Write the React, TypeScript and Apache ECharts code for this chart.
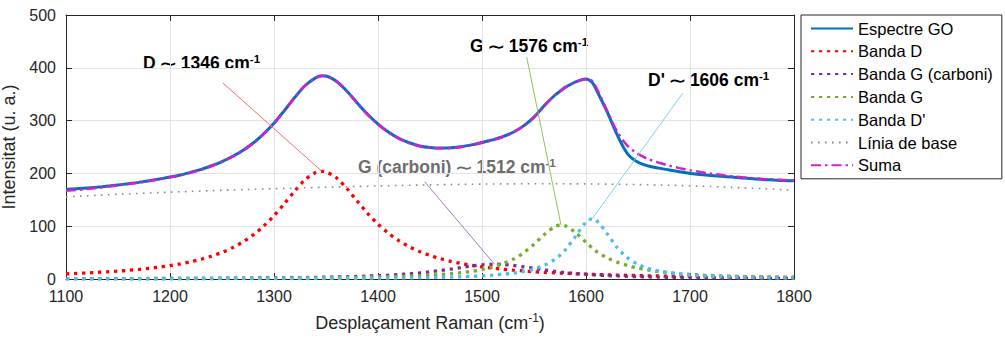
import React, { useEffect, useRef } from "react";
import * as echarts from "echarts";

// Raman shift sampling (cm^-1)
const ramanShift = [
  1100, 1110, 1120, 1130, 1140, 1150, 1160, 1170, 1180, 1190,
  1200, 1210, 1220, 1230, 1240, 1250, 1260, 1270, 1280, 1290,
  1300, 1310, 1320, 1330, 1340, 1346, 1350, 1360, 1370, 1380, 1390,
  1400, 1410, 1420, 1430, 1440, 1450, 1460, 1470, 1480, 1490,
  1500, 1510, 1512, 1520, 1530, 1540, 1550, 1560, 1570, 1576, 1580, 1590,
  1600, 1606, 1610, 1620, 1630, 1640, 1650, 1660, 1670, 1680, 1690,
  1700, 1710, 1720, 1730, 1740, 1750, 1760, 1770, 1780, 1790, 1800,
];

// Measured GO spectrum
const espectreGO = [
  170, 171, 172.5, 174, 176, 178, 180.5, 183, 186, 189.5,
  193, 197, 202, 207.5, 214.5, 222.5, 232, 243.5, 257.5, 275,
  295, 319, 344, 366.5, 381, 385, 384.5, 374.5, 356, 333.5, 312,
  293.5, 278.5, 266.5, 258, 252, 249, 248, 248.5, 250.5, 254,
  258.5, 263.5, 264.5, 269.5, 278, 290, 306.5, 328.5, 348, 357, 363, 373.5,
  379, 372, 358, 318, 273, 237, 221, 214, 210, 206.5, 203,
  200, 198, 196, 194.5, 193, 191.5, 190, 188.5, 187.5, 186.5, 186,
];

// Fitted bands
const bandaD = [
  9.7, 10.5, 11.4, 12.4, 13.6, 14.9, 16.4, 18.1, 20.2, 22.6,
  25.4, 28.7, 32.7, 37.4, 43.3, 50.4, 59.2, 70.1, 83.6, 100.1,
  120.0, 142.8, 166.7, 188.1, 201.6, 204, 202.9, 191.6, 171.4, 147.6, 124.4,
  103.9, 86.7, 72.6, 61.2, 52.0, 44.6, 38.5, 33.5, 29.4, 26.0,
  23.1, 20.6, 20.2, 18.5, 16.7, 15.2, 13.8, 12.6, 11.6, 11.0, 10.7, 9.9,
  9.1, 8.7, 8.5, 7.9, 7.4, 6.9, 6.5, 6.1, 5.7, 5.4, 5.1,
  4.8, 4.6, 4.3, 4.1, 3.9, 3.7, 3.5, 3.4, 3.2, 3.1, 3.0,
];

const bandaGCarboni = [
  0.6, 0.6, 0.6, 0.7, 0.7, 0.8, 0.8, 0.8, 0.9, 0.9,
  1.0, 1.1, 1.1, 1.2, 1.3, 1.4, 1.5, 1.6, 1.8, 1.9,
  2.1, 2.3, 2.5, 2.7, 3.0, 3.2, 3.4, 3.8, 4.2, 4.8, 5.5,
  6.3, 7.2, 8.4, 9.8, 11.5, 13.5, 16.0, 18.8, 21.8, 24.7,
  26.9, 27.9, 28, 27.5, 25.7, 23.0, 20.0, 17.1, 14.5, 13.1, 12.3, 10.4,
  8.9, 8.1, 7.6, 6.6, 5.8, 5.0, 4.5, 4.0, 3.5, 3.2, 2.9,
  2.6, 2.4, 2.2, 2.0, 1.8, 1.7, 1.6, 1.4, 1.3, 1.3, 1.2,
];

const bandaG = [
  0.6, 0.6, 0.6, 0.6, 0.7, 0.7, 0.7, 0.8, 0.8, 0.8,
  0.9, 0.9, 1.0, 1.0, 1.1, 1.2, 1.2, 1.3, 1.4, 1.5,
  1.6, 1.7, 1.9, 2.0, 2.2, 2.3, 2.4, 2.6, 2.9, 3.2, 3.5,
  3.9, 4.3, 4.9, 5.5, 6.3, 7.3, 8.5, 10.0, 12.0, 14.5,
  17.9, 22.4, 23.5, 28.7, 37.4, 49.6, 65.7, 84.4, 99.1, 102, 100.7, 87.9,
  69.4, 58.8, 52.5, 40.5, 32.0, 25.5, 20.5, 17.0, 14.0, 11.8, 10.0,
  8.6, 7.5, 6.6, 5.8, 5.2, 4.7, 4.2, 3.8, 3.5, 3.2, 2.9,
];

const bandaDPrima = [
  0.3, 0.3, 0.3, 0.3, 0.3, 0.3, 0.4, 0.4, 0.4, 0.4,
  0.4, 0.5, 0.5, 0.5, 0.5, 0.6, 0.6, 0.6, 0.7, 0.7,
  0.8, 0.8, 0.9, 0.9, 1.0, 1.0, 1.1, 1.2, 1.3, 1.4, 1.5,
  1.7, 1.8, 2.0, 2.3, 2.5, 2.9, 3.3, 3.7, 4.3, 5.1,
  6.0, 7.2, 7.5, 8.9, 11.1, 14.3, 18.9, 26.0, 37.1, 46.7, 54.8, 80.9,
  107.8, 114, 111.2, 86.8, 59.3, 40.0, 27.8, 20.1, 15.1, 11.7, 9.3,
  7.5, 6.2, 5.2, 4.5, 3.8, 3.3, 2.9, 2.6, 2.3, 2.1, 1.9,
];

const liniaBase = [
  155.5, 156.5, 157.5, 158.5, 159.5, 160.5, 161.3, 162.1, 162.9, 163.7,
  164.5, 165.2, 165.9, 166.6, 167.3, 168.0, 168.6, 169.2, 169.8, 170.4,
  171.0, 171.6, 172.2, 172.8, 173.3, 173.6, 173.8, 174.3, 174.8, 175.3, 175.8,
  176.3, 176.7, 177.1, 177.5, 177.9, 178.3, 178.6, 178.9, 179.2, 179.5,
  179.7, 179.9, 179.9, 180.1, 180.2, 180.3, 180.4, 180.4, 180.4, 180.4, 180.3, 180.2,
  180.1, 180.0, 179.9, 179.7, 179.4, 179.1, 178.8, 178.4, 178.0, 177.5, 177.0,
  176.4, 175.8, 175.1, 174.4, 173.6, 172.8, 171.9, 171.0, 170.0, 169.0, 168.0,
];

const suma = [
  167, 168.5, 170.5, 172.5, 175, 177.5, 180, 182.5, 185.5, 189,
  192.5, 196.5, 201.5, 207, 214, 222, 231.5, 243, 257, 274.5,
  295, 319, 344, 366.5, 381, 384.5, 384, 374, 355.5, 333, 311.5,
  293, 278, 266, 257.5, 251.5, 248.5, 247.5, 248, 250, 253.5,
  258, 263, 264, 269, 277.5, 289.5, 306, 328, 348, 357, 362.5, 373,
  378.5, 375, 362, 320, 279, 252, 237, 227, 220.5, 214.5, 210,
  206, 202.5, 199.5, 197, 194.5, 192.5, 191, 189.5, 188.5, 187.5, 186.5,
];

// Band centres and their peak heights
const bandNames = ["D", "G (carboni)", "G", "D'"];
const bandCenters = [1346, 1512, 1576, 1606];
const bandPeaks = [204, 28, 102, 114];

const xTicks = [1100, 1200, 1300, 1400, 1500, 1600, 1700, 1800];
const yTicks = [0, 100, 200, 300, 400, 500];

const FONT = '"Liberation Sans", Arial, Helvetica, sans-serif';
const AXIS_COLOR = "#262626";

const pairs = (ys: number[]) => ramanShift.map((x, i) => [x, ys[i]]);

export default function App() {
  const ref = useRef<HTMLDivElement>(null);

  useEffect(() => {
    document.body.style.margin = "0";
    if (!ref.current) return;
    const chart = echarts.init(ref.current, null, { renderer: "svg" });

    // leader-line start points (data units) and label placement (px)
    const leaders = [
      { start: [1251, 371], color: "#ff6a6a", label: { x: 143, y: 63, fill: "#000" } },
      { start: [1445, 184], color: "#a77bbd", label: { x: 358, y: 167, fill: "#6e6e6e" } },
      { start: [1543, 420], color: "#93c25a", label: { x: 470, y: 46, fill: "#000" } },
      { start: [1693, 352], color: "#7fd0f2", label: { x: 648, y: 80, fill: "#000" } },
    ];

    const leaderLine = (k: number) => ({
      silent: true,
      symbol: ["none", "none"],
      label: { show: false },
      lineStyle: { color: leaders[k].color, width: 1, type: "solid" },
      data: [[{ coord: leaders[k].start }, { coord: [bandCenters[k], bandPeaks[k]] }]],
    });

    const dotted = [3.3, 4.7];

    const lineSeries = (
      name: string,
      ys: number[],
      color: string,
      width: number,
      type: any,
      z: number,
      extra: any = {}
    ) => ({
      name,
      type: "line",
      data: pairs(ys),
      showSymbol: false,
      symbol: "none",
      smooth: 0.3,
      z,
      itemStyle: { color },
      lineStyle: { color, width, type },
      emphasis: { disabled: true },
      ...extra,
    });

    const labelText = (k: number) =>
      `{b|${bandNames[k]}} {t|∼} {b|${bandCenters[k]} cm}{s|-1}`;

    const graphicTexts = leaders.map((l, k) => ({
      type: "text",
      x: l.label.x,
      y: l.label.y,
      silent: true,
      style: {
        text: labelText(k),
        align: "left",
        verticalAlign: "middle",
        fill: l.label.fill,
        rich: {
          b: { fontSize: 17.5, fontWeight: "bold", fontFamily: FONT, fill: l.label.fill, lineHeight: 20 },
          t: { fontSize: 22, fontFamily: '"DejaVu Sans", sans-serif', fill: l.label.fill, lineHeight: 20 },
          s: { fontSize: 11.5, fontWeight: "bold", fontFamily: FONT, fill: l.label.fill, verticalAlign: "top", lineHeight: 12 },
        },
      },
    }));

    const option: any = {
      animation: false,
      backgroundColor: "#fff",
      grid: {
        left: 66,
        top: 15,
        width: 728,
        height: 264,
        outerBoundsMode: "none",
        containLabel: false,
      },
      legend: {
        orient: "vertical",
        left: 801,
        top: 15,
        padding: [5, 9, 5, 9],
        itemWidth: 42,
        itemHeight: 16,
        itemGap: 5.8,
        itemStyle: { opacity: 0 },
        borderColor: AXIS_COLOR,
        borderWidth: 1,
        borderRadius: 0,
        selectedMode: false,
        textStyle: { fontFamily: FONT, fontSize: 16.5, color: "#000", lineHeight: 16 },
        data: ["Espectre GO", "Banda D", "Banda G (carboni)", "Banda G", "Banda D'", "Línia de base", "Suma"],
      },
      xAxis: [
        {
          type: "value",
          min: xTicks[0],
          max: xTicks[xTicks.length - 1],
          interval: 100,
          position: "bottom",
          name: "{a|Desplaçament Raman (cm}{s|-1}{a|)}",
          nameLocation: "middle",
          nameGap: 33,
          nameTextStyle: {
            rich: {
              a: { fontSize: 18, fontFamily: FONT, color: AXIS_COLOR, lineHeight: 22 },
              s: { fontSize: 12, fontFamily: FONT, color: AXIS_COLOR, verticalAlign: "top", lineHeight: 14 },
            },
          },
          axisLine: { show: true, onZero: false, lineStyle: { color: AXIS_COLOR, width: 1 } },
          axisTick: { show: true, inside: true, length: 6, lineStyle: { color: AXIS_COLOR } },
          axisLabel: {
            fontFamily: FONT,
            fontSize: 16,
            color: AXIS_COLOR,
            margin: 9,
            formatter: (v: number) => String(v),
          },
          splitLine: { show: true, lineStyle: { color: "#e3e3e3", width: 1 } },
        },
        {
          type: "value",
          min: xTicks[0],
          max: xTicks[xTicks.length - 1],
          interval: 100,
          position: "top",
          axisLine: { show: true, onZero: false, lineStyle: { color: AXIS_COLOR, width: 1 } },
          axisTick: { show: true, inside: true, length: 6, lineStyle: { color: AXIS_COLOR } },
          axisLabel: { show: false },
          splitLine: { show: false },
        },
      ],
      yAxis: [
        {
          type: "value",
          min: yTicks[0],
          max: yTicks[yTicks.length - 1],
          interval: 100,
          position: "left",
          name: "Intensitat (u. a.)",
          nameLocation: "middle",
          nameGap: 31,
          nameTextStyle: { fontFamily: FONT, fontSize: 18, color: AXIS_COLOR },
          axisLine: { show: true, onZero: false, lineStyle: { color: AXIS_COLOR, width: 1 } },
          axisTick: { show: true, inside: true, length: 6, lineStyle: { color: AXIS_COLOR } },
          axisLabel: {
            fontFamily: FONT,
            fontSize: 16,
            color: AXIS_COLOR,
            margin: 10,
            formatter: (v: number) => String(v),
          },
          splitLine: { show: true, lineStyle: { color: "#e3e3e3", width: 1 } },
        },
        {
          type: "value",
          min: yTicks[0],
          max: yTicks[yTicks.length - 1],
          interval: 100,
          position: "right",
          axisLine: { show: true, onZero: false, lineStyle: { color: AXIS_COLOR, width: 1 } },
          axisTick: { show: true, inside: true, length: 6, lineStyle: { color: AXIS_COLOR } },
          axisLabel: { show: false },
          splitLine: { show: false },
        },
      ],
      series: [
        lineSeries("Espectre GO", espectreGO, "#0072BD", 3, "solid", 2),
        lineSeries("Banda D", bandaD, "#FF0000", 3.3, dotted, 3, { markLine: leaderLine(0) }),
        lineSeries("Banda G (carboni)", bandaGCarboni, "#7E2F8E", 3.3, dotted, 3, { markLine: leaderLine(1) }),
        lineSeries("Banda G", bandaG, "#77AC30", 3.3, dotted, 3, { markLine: leaderLine(2) }),
        lineSeries("Banda D'", bandaDPrima, "#4DBEEE", 3.3, dotted, 3, { markLine: leaderLine(3) }),
        lineSeries("Línia de base", liniaBase, "#8a8a8a", 1.6, [1.6, 5.4], 3),
        lineSeries("Suma", suma, "#D020D0", 2.5, [10, 4, 2.5, 4], 4),
      ],
      graphic: graphicTexts,
    };

    chart.setOption(option);
    return () => chart.dispose();
  }, []);

  return <div ref={ref} style={{ width: 1005, height: 341 }} />;
}
